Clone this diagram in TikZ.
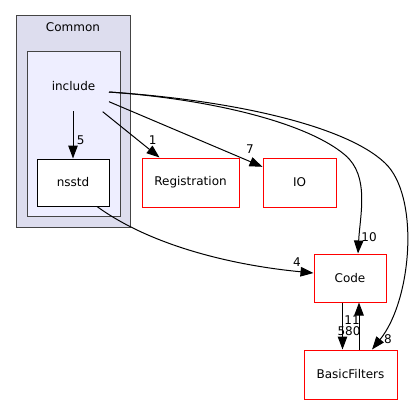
\documentclass[tikz,border=0pt]{standalone}
\usepackage{fontspec}
\setmainfont{DejaVu Sans}
\usetikzlibrary{arrows.meta}
\definecolor{clusterA}{HTML}{DDDDEE}
\definecolor{clusterB}{HTML}{EEEEFF}
\definecolor{clusterline}{HTML}{444444}
\tikzset{
  lbl/.style={font=\fontsize{12}{14}\selectfont, inner sep=0pt},
  elbl/.style={font=\fontsize{12}{14}\selectfont, inner sep=0pt},
  dirbox/.style={draw=red, fill=white, line width=1pt, inner sep=0pt, font=\fontsize{12}{14}\selectfont},
  localbox/.style={draw=black, fill=white, line width=1pt, inner sep=0pt, font=\fontsize{12}{14}\selectfont},
  dep/.style={draw=black, line width=1pt, -{Triangle[length=13pt,width=9.5pt]}},
}
\begin{document}
\begin{tikzpicture}[x=1pt,y=-1pt]
\useasboundingbox (0,0) rectangle (417,404);
% clusters
\draw[fill=clusterA, draw=clusterline, line width=1pt] (16,16) rectangle (130,227);
\node[lbl] (common) at (73,27) {Common};
\draw[fill=clusterB, draw=clusterline, line width=1pt] (27,52) rectangle (120,216);
\node[lbl] (include) at (73.5,86) {include};
% nodes
\node[localbox, minimum width=72pt, minimum height=47pt] (nsstd) at (73,182.5) {nsstd};
\node[dirbox, minimum width=97pt, minimum height=49pt] (reg) at (190.5,182.5) {Registration};
\node[dirbox, minimum width=73pt, minimum height=49pt] (io) at (299.5,182.5) {IO};
\node[dirbox, minimum width=72pt, minimum height=48pt] (code) at (350,278) {Code};
\node[dirbox, minimum width=93pt, minimum height=49pt] (bf) at (350.5,374.5) {BasicFilters};
% start points
\coordinate (s0) at (73,111);
\coordinate (s1) at (102.7,111.7);
\coordinate (s2) at (109,101.7);
\coordinate (s3) at (109,92);
% edges
\draw[dep] (s0) -- (nsstd.north);
\draw[dep] (s1) -- (reg);
\draw[dep] (s2) -- (io);
\draw[dep] (s3) .. controls (220,100) and (310,125) .. (345,155)
   .. controls (370,176) and (360,215) .. ([xshift=8pt]code.north);
\draw[dep] (s3) .. controls (230,100) and (345,125) .. (385,163)
   .. controls (420,196) and (412,300) .. ([xshift=21.5pt]bf.north);
\draw[dep] ([xshift=24pt]nsstd.south) .. controls (150,245) and (230,265) .. ([yshift=5pt]code.west);
\draw[dep] ([xshift=-7.5pt]code.south) -- ([xshift=-8pt]bf.north);
\draw[dep] ([xshift=8.5pt]bf.north) -- ([xshift=9pt]code.south);
% edge labels
\node[elbl] (l5) at (80.7,140) {5};
\node[elbl] (l1) at (152.7,140) {1};
\node[elbl] (l7) at (250,149) {7};
\node[elbl] (l10) at (369,237) {10};
\node[elbl] (l4) at (297,262) {4};
\node[elbl] (l11) at (352,320) {11};
\node[elbl] (l580) at (349,331) {580};
\node[elbl] (l8) at (388,339) {8};
\end{tikzpicture}
\end{document}
